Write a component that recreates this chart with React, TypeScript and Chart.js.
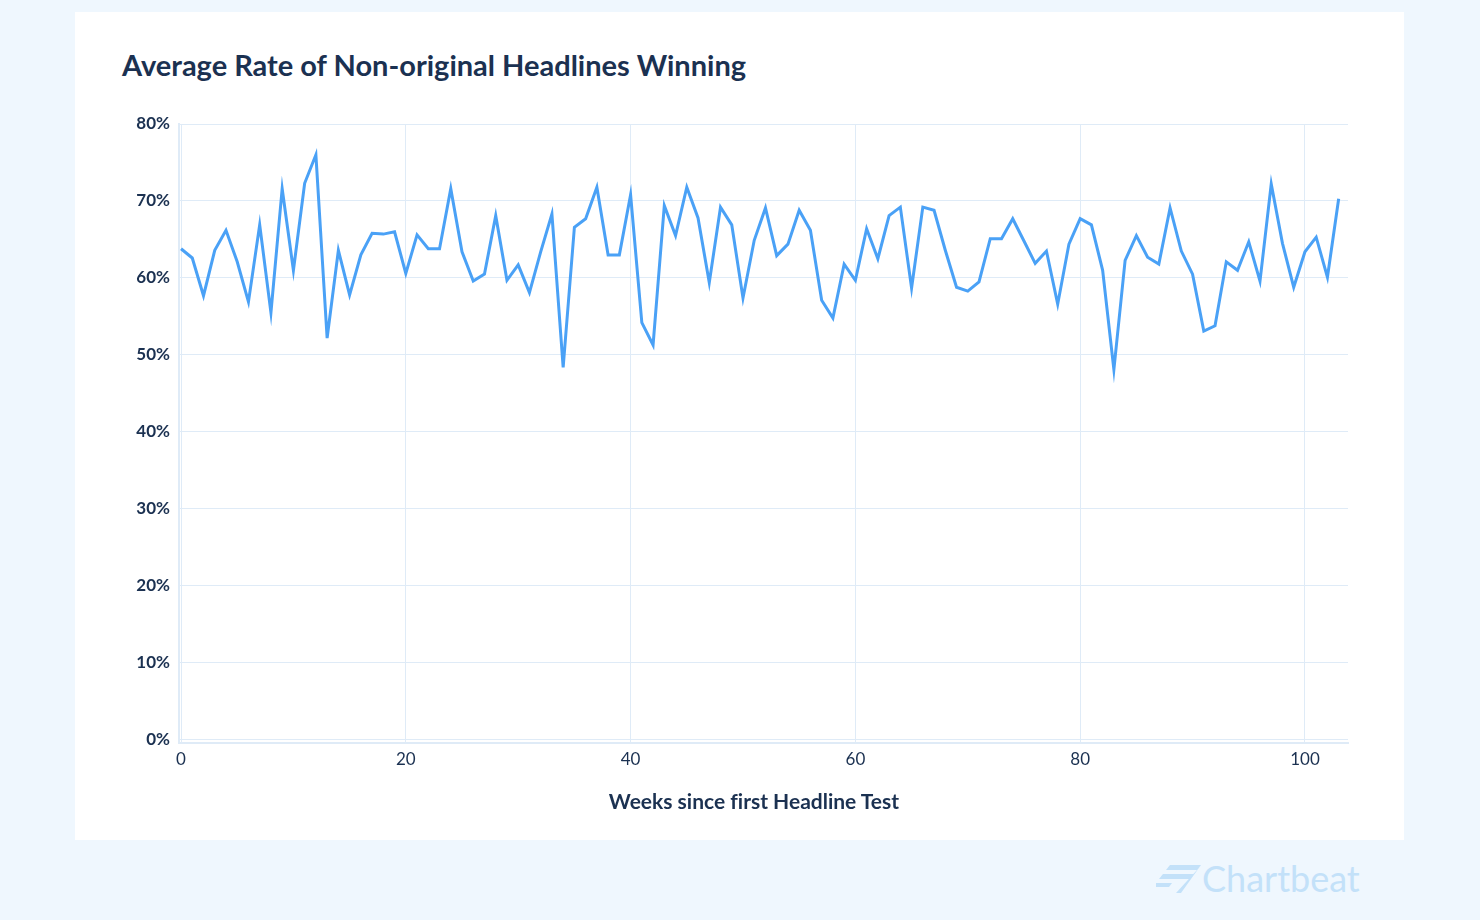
import React, { useEffect, useRef } from 'react';
import { Chart, registerables } from 'chart.js';

Chart.register(...registerables);

// weeks since first headline test
const weeks = [
  0, 1, 2, 3, 4, 5, 6, 7, 8, 9, 10, 11, 12, 13, 14, 15, 16, 17, 18, 19,
  20, 21, 22, 23, 24, 25, 26, 27, 28, 29, 30, 31, 32, 33, 34, 35, 36, 37, 38, 39,
  40, 41, 42, 43, 44, 45, 46, 47, 48, 49, 50, 51, 52, 53, 54, 55, 56, 57, 58, 59,
  60, 61, 62, 63, 64, 65, 66, 67, 68, 69, 70, 71, 72, 73, 74, 75, 76, 77, 78, 79,
  80, 81, 82, 83, 84, 85, 86, 87, 88, 89, 90, 91, 92, 93, 94, 95, 96, 97, 98, 99,
  100, 101, 102, 103,
];

// average rate (%) of non-original headlines winning
const winRate = [
  63.8, 62.6, 57.7, 63.6, 66.2, 62.1, 56.9, 66.9, 55.5, 71.6,
  61.0, 72.3, 76.0, 52.2, 63.6, 57.8, 63.0, 65.8, 65.7, 66.0,
  60.6, 65.6, 63.8, 63.8, 71.6, 63.4, 59.6, 60.5, 68.1, 59.7,
  61.7, 58.1, 63.4, 68.3, 48.4, 66.6, 67.7, 71.8, 63.0, 63.0,
  70.8, 54.2, 51.3, 69.4, 65.5, 71.8, 67.8, 59.4, 69.2, 66.9,
  57.4, 64.9, 69.1, 62.9, 64.4, 68.8, 66.2, 57.1, 54.8, 61.8,
  59.7, 66.4, 62.5, 68.1, 69.2, 58.7, 69.2, 68.8, 63.6, 58.8,
  58.3, 59.5, 65.1, 65.1, 67.7, 64.8, 61.9, 63.5, 56.6, 64.4,
  67.7, 66.9, 61.0, 48.1, 62.3, 65.5, 62.7, 61.8, 69.1, 63.5,
  60.5, 53.1, 53.8, 62.1, 61.0, 64.7, 59.6, 72.2, 64.5, 58.8,
  63.4, 65.3, 60.1, 70.3,
];

const yTicks = [0, 10, 20, 30, 40, 50, 60, 70, 80];
const xTicks = [0, 20, 40, 60, 80, 100];

const NAVY = '#1b3151';
const GRID = '#dfebf7';
const FONT = 'Lato, "Open Sans", sans-serif';

function RateChart() {
  const canvasRef = useRef<HTMLCanvasElement>(null);
  const chartRef = useRef<Chart | null>(null);

  useEffect(() => {
    if (!canvasRef.current) return;
    if (chartRef.current) chartRef.current.destroy();

    chartRef.current = new Chart(canvasRef.current, {
      type: 'line',
      data: {
        datasets: [
          {
            label: 'Average Rate of Non-original Headlines Winning',
            data: weeks.map((w, i) => ({ x: w, y: winRate[i] })),
            borderColor: '#4aa1f6',
            borderWidth: 3,
            pointRadius: 0,
            tension: 0,
            fill: false,
          },
        ],
      },
      options: {
        animation: false,
        responsive: true,
        maintainAspectRatio: false,
        layout: { padding: { top: 24, right: 22, bottom: 0, left: 0 } },
        plugins: {
          legend: { display: false },
          tooltip: { enabled: false },
        },
        scales: {
          x: {
            type: 'linear',
            min: -0.18,
            max: 103.83,
            afterBuildTicks: (scale: any) => {
              scale.ticks = xTicks.map(v => ({ value: v }));
            },
            afterFit: (scale: any) => {
              scale.height = 87;
            },
            grid: { color: GRID, drawTicks: false, lineWidth: 1 },
            border: { color: GRID, width: 2 },
            ticks: {
              padding: 6,
              color: NAVY,
              font: { family: FONT, size: 17 },
              maxRotation: 0,
            },
          },
          y: {
            min: -0.39,
            max: 80,
            afterBuildTicks: (scale: any) => {
              scale.ticks = yTicks.map(v => ({ value: v }));
            },
            afterFit: (scale: any) => {
              scale.width = 89;
            },
            grid: { color: GRID, drawTicks: false, lineWidth: 1 },
            border: { color: GRID, width: 2 },
            ticks: {
              padding: 9,
              color: NAVY,
              font: { family: FONT, size: 17, weight: 'bold' },
              callback: (v: any) => `${v}%`,
            },
          },
        },
      },
    });

    return () => {
      if (chartRef.current) {
        chartRef.current.destroy();
        chartRef.current = null;
      }
    };
  }, []);

  return <canvas ref={canvasRef} />;
}

function Logo() {
  return (
    <div
      style={{
        position: 'absolute',
        left: 1156,
        top: 858,
        display: 'flex',
        alignItems: 'center',
        color: '#c3e1f9',
        fontFamily: FONT,
        fontSize: 36,
        lineHeight: '40px',
      }}
    >
      <svg width="46" height="30" viewBox="0 0 46 30">
        <polygon points="14,2 45,2 41,7 10,7" fill="#c3e1f9" />
        <polygon points="7,11 38,11 34,16 3,16" fill="#c3e1f9" />
        <polygon points="0,20 16,20 13,24 0,24" fill="#c3e1f9" />
        <polygon points="41,7 45,2 25,30 20,30" fill="#c3e1f9" />
      </svg>
      <span>Chartbeat</span>
    </div>
  );
}

export default function App() {
  return (
    <div
      style={{
        position: 'fixed',
        inset: 0,
        background: '#eff7fe',
        overflow: 'hidden',
      }}
    >
      <div
        style={{
          position: 'absolute',
          left: 75,
          top: 12,
          width: 1329,
          height: 828,
          background: '#ffffff',
        }}
      />
      <div
        style={{
          position: 'absolute',
          left: 122,
          top: 45,
          fontFamily: FONT,
          fontWeight: 700,
          fontSize: 29,
          lineHeight: '40px',
          color: NAVY,
          whiteSpace: 'nowrap',
        }}
      >
        Average Rate of Non-original Headlines Winning
      </div>
      <div
        style={{
          position: 'absolute',
          left: 90,
          top: 100,
          width: 1280,
          height: 730,
        }}
      >
        <RateChart />
      </div>
      <div
        style={{
          position: 'absolute',
          left: 554,
          width: 400,
          top: 787,
          textAlign: 'center',
          fontFamily: FONT,
          fontWeight: 700,
          fontSize: 21,
          lineHeight: '28px',
          color: NAVY,
          fontVariantLigatures: 'none',
          whiteSpace: 'nowrap',
        }}
      >
        Weeks since first Headline Test
      </div>
      <Logo />
    </div>
  );
}
